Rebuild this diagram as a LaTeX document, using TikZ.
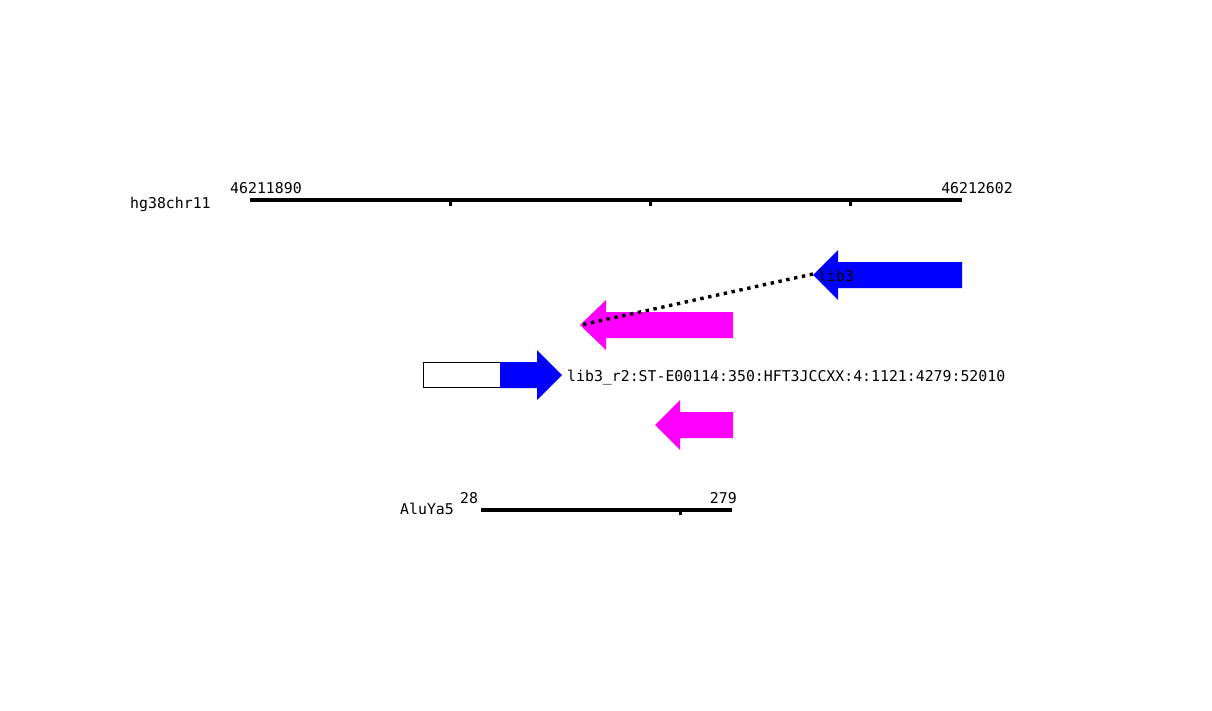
\documentclass[tikz,border=0pt]{standalone}
\usepackage{fontspec}
\newfontfamily\monof{DejaVu Sans Mono}
\definecolor{fwdblue}{RGB}{0,0,255}
\definecolor{revmag}{RGB}{255,0,255}
\begin{document}
\begin{tikzpicture}[x=1pt,y=-1pt,
  lbl/.style={font=\monof\fontsize{14.85}{16}\selectfont, inner sep=0pt, anchor=base west},
  ruler/.style={line width=3.2pt},
  tickmark/.style={line width=3pt},
  bluearr/.style={fill=fwdblue},
  magarr/.style={fill=revmag},
  link/.style={line width=3.4pt, dash pattern=on 3.4pt off 4.6pt}]
\useasboundingbox (0,0) rectangle (1212,710);
\fill[white] (0,0) rectangle (1212,710);
% reference ruler
\draw[ruler] (250,200) -- (962,200);
\foreach \x in {450,650,850} \draw[tickmark] (\x,200) -- (\x,206);
\node[lbl] (chr) at (130,208) {hg38chr11};
\node[lbl] (cstart) at (230,193) {46211890};
\node[lbl, anchor=base east] (cend) at (1013,193) {46212602};
% lib3 blue reverse arrow
\fill[bluearr] (813,275) -- (838,250) -- (838,262) -- (962,262) -- (962,288) -- (838,288) -- (838,300) -- cycle;
\coordinate (tipA) at (813,274);
\node[lbl] (lib) at (818,281) {lib3};
% magenta arrow 1
\fill[magarr] (580,325) -- (606,300) -- (606,312) -- (733,312) -- (733,338) -- (606,338) -- (606,350) -- cycle;
\coordinate (tipB) at (581,325);
% dotted connector
\draw[link] (tipA) -- (tipB);
% read arrow
\draw[line width=1pt, fill=white] (423,362) rectangle (500,387);
\fill[bluearr] (500,362) -- (537,362) -- (537,350) -- (562,375) -- (537,400) -- (537,388) -- (500,388) -- cycle;
\node[lbl] (read) at (567,381) {lib3\_r2:ST-E00114:350:HFT3JCCXX:4:1121:4279:52010};
% magenta arrow 2
\fill[magarr] (655,425) -- (680,400) -- (680,412) -- (733,412) -- (733,438) -- (680,438) -- (680,450) -- cycle;
% repeat ruler
\draw[ruler] (481,510) -- (732,510);
\draw[tickmark] (680,510) -- (680,515);
\node[lbl] (alu) at (400,514) {AluYa5};
\node[lbl] (astart) at (460,503) {28};
\node[lbl, anchor=base east] (aend) at (737,503) {279};
\end{tikzpicture}
\end{document}
